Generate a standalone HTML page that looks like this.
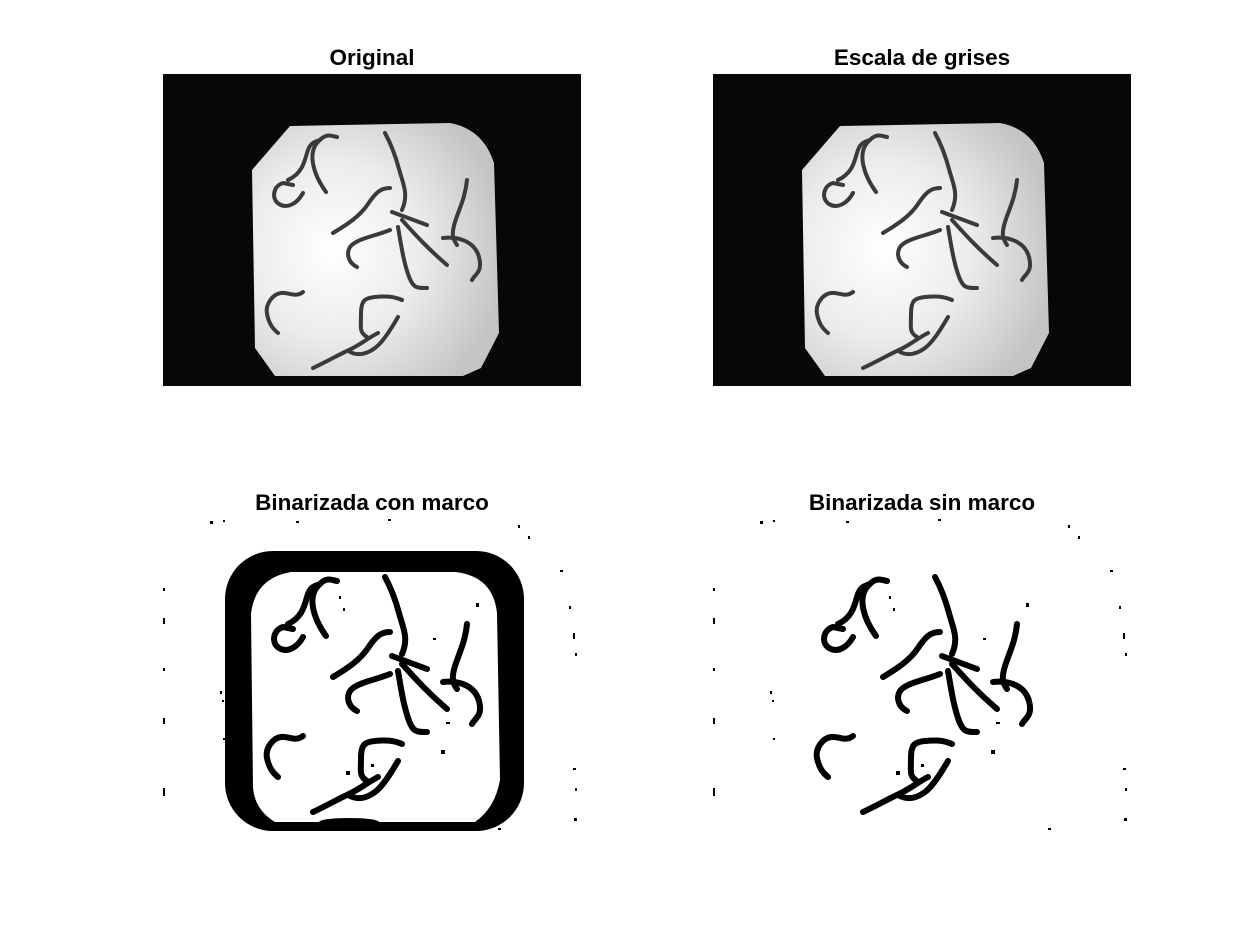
<!DOCTYPE html>
<html><head><meta charset="utf-8"><title>Worm images</title>
<style>
html,body{margin:0;padding:0;background:#fff;}
svg{display:block;}
text{font-family:"Liberation Sans",Arial,sans-serif;font-weight:bold;font-size:22.5px;fill:#000;}
</style></head>
<body>
<svg width="1250" height="938" viewBox="0 0 1250 938">
<defs>
  <radialGradient id="light" cx="0.33" cy="0.5" r="0.7">
    <stop offset="0" stop-color="#ffffff"/>
    <stop offset="0.5" stop-color="#ececec"/>
    <stop offset="1" stop-color="#c4c4c4"/>
  </radialGradient>
  <path id="plate" d="M127,52 L287,49 Q320,55 331,89 L336,259 L318,294 L300,302 L112,302 L92,274 L89,96 Z"/>
  <g id="worms" fill="none" stroke-linecap="round" stroke-linejoin="round">
    <path d="M163,118 C150,100 145,80 154,69 S168,62 174,63"/>
    <path d="M125,106 C138,100 141,90 144,79 S152,68 157,66"/>
    <path d="M140,119 C134,130 124,135 116,130 S110,112 120,109 L130,111"/>
    <path d="M222,59 C228,70 232,80 236,95 S246,120 239,136"/>
    <path d="M170,159 C185,150 197,142 205,130 S218,114 227,114"/>
    <path d="M229,138 L264,151"/>
    <path d="M194,193 C184,188 182,176 190,170 S212,162 227,156"/>
    <path d="M235,153 C238,170 240,185 245,200 S254,214 264,214"/>
    <path d="M239,146 C250,158 262,172 284,191"/>
    <path d="M304,106 C302,125 296,135 292,148 S290,165 294,171"/>
    <path d="M280,164 C296,162 312,168 316,183 S312,200 309,206"/>
    <path d="M140,218 C132,224 126,218 118,219 S102,230 104,240 S110,255 115,259"/>
    <path d="M239,226 C230,222 222,222 212,223 S198,226 198,240 S196,258 204,263"/>
    <path d="M235,243 C228,255 220,268 212,274 S195,282 187,278"/>
    <path d="M150,294 C165,287 175,281 186,276 S205,264 215,259"/>
  </g>
  <g id="noise" fill="#000">
    <rect x="47" y="3" width="3" height="3"/><rect x="60" y="2" width="2" height="2"/>
    <rect x="133" y="3" width="3" height="2"/><rect x="225" y="1" width="3" height="2"/>
    <rect x="355" y="7" width="2" height="3"/><rect x="365" y="18" width="2" height="3"/>
    <rect x="397" y="52" width="3" height="2"/><rect x="406" y="88" width="2" height="3"/>
    <rect x="410" y="115" width="2" height="6"/><rect x="412" y="135" width="2" height="3"/>
    <rect x="410" y="250" width="3" height="2"/><rect x="412" y="270" width="2" height="3"/>
    <rect x="411" y="300" width="3" height="3"/><rect x="335" y="310" width="3" height="2"/>
    <rect x="0" y="70" width="2" height="3"/><rect x="0" y="100" width="2" height="6"/>
    <rect x="0" y="150" width="2" height="3"/><rect x="0" y="200" width="2" height="6"/>
    <rect x="0" y="270" width="2" height="8"/><rect x="57" y="173" width="2" height="3"/>
    <rect x="59" y="182" width="2" height="2"/><rect x="60" y="220" width="2" height="2"/>
    <rect x="176" y="78" width="2" height="3"/><rect x="180" y="90" width="2" height="3"/>
    <rect x="270" y="120" width="3" height="2"/><rect x="313" y="85" width="3" height="4"/>
    <rect x="283" y="204" width="4" height="2"/><rect x="278" y="232" width="4" height="4"/>
    <rect x="183" y="253" width="4" height="4"/><rect x="208" y="246" width="3" height="3"/>
  </g>
</defs>

<text x="372" y="65" text-anchor="middle">Original</text>
<text x="922" y="65" text-anchor="middle">Escala de grises</text>
<text x="372" y="510" text-anchor="middle">Binarizada con marco</text>
<text x="922" y="510" text-anchor="middle">Binarizada sin marco</text>

<g transform="translate(163,74)">
  <rect width="418" height="312" fill="#070707"/>
  <use href="#plate" fill="url(#light)"/>
  <use href="#worms" stroke="#3a3a3a" stroke-width="4"/>
</g>

<g transform="translate(713,74)">
  <rect width="418" height="312" fill="#070707"/>
  <use href="#plate" fill="url(#light)"/>
  <use href="#worms" stroke="#3a3a3a" stroke-width="4"/>
</g>

<g transform="translate(163,518)">
  <rect width="418" height="312" fill="#fff"/>
  <rect x="62" y="33" width="299" height="280" rx="48" fill="#000"/>
  <path d="M128,54 L292,54 Q330,58 334,95 L337,262 Q332,290 312,304 L112,304 Q92,292 90,270 L88,96 Q92,60 128,54 Z" fill="#fff"/>
  <ellipse cx="186" cy="304" rx="30" ry="4" fill="#000"/>
  <use href="#worms" stroke="#000" stroke-width="6"/>
  <use href="#noise"/>
</g>

<g transform="translate(713,518)">
  <rect width="418" height="312" fill="#fff"/>
  <use href="#worms" stroke="#000" stroke-width="6"/>
  <use href="#noise"/>
</g>
</svg>
</body></html>
